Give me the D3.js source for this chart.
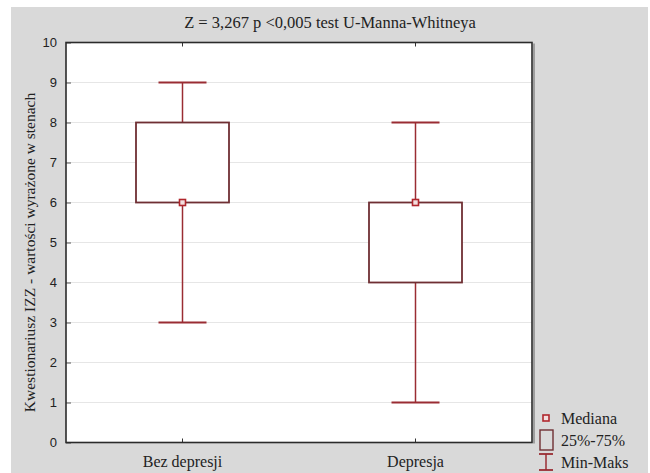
<!DOCTYPE html>
<html>
<head>
<meta charset="utf-8">
<script src="https://cdn.jsdelivr.net/npm/d3@7"></script>
<style>
  body { margin: 0; background: #fff; }
  svg { display: block; }
</style>
</head>
<body>
<div id="chart"></div>
<script>
// dane
const categories = ['Bez depresji', 'Depresja'];
const mins = [3, 1];
const q1s = [6, 4];
const medians = [6, 6];
const q3s = [8, 6];
const maxs = [9, 8];
const yTicks = [0, 1, 2, 3, 4, 5, 6, 7, 8, 9, 10];

const title = 'Z = 3,267 p <0,005 test U-Manna-Whitneya';
const yTitle = 'Kwestionariusz IZZ - wartości wyrażone w stenach';
const legendLabels = ['Mediana', '25%-75%', 'Min-Maks'];

const width = 650;
const height = 473;
const plot = { left: 66, right: 532, top: 42.5, bottom: 442.5 };

const serif = '"Liberation Serif", "Times New Roman", serif';
const sans = '"Liberation Sans", Arial, sans-serif';
const boxColor = '#6f2f33';
const whiskerColor = '#9a2c33';
const medianColor = '#b0262c';

const svg = d3.select('#chart').append('svg')
  .attr('width', width)
  .attr('height', height);

// tło
svg.append('rect')
  .attr('x', 11).attr('y', 7)
  .attr('width', width - 13).attr('height', height - 7)
  .attr('fill', '#d9d9d9');

const x = d3.scaleBand()
  .domain(categories)
  .range([plot.left, plot.right])
  .padding(0);

const y = d3.scaleLinear()
  .domain([0, 10])
  .range([plot.bottom, plot.top]);

// obszar wykresu
svg.append('rect')
  .attr('x', plot.left).attr('y', plot.top)
  .attr('width', plot.right - plot.left).attr('height', plot.bottom - plot.top)
  .attr('fill', '#fff');

// linie siatki
svg.append('g')
  .selectAll('line')
  .data(yTicks.filter(d => d > 0 && d < 10))
  .enter()
  .append('line')
  .attr('x1', plot.left).attr('x2', plot.right)
  .attr('y1', d => y(d)).attr('y2', d => y(d))
  .style('stroke', '#e6e6e6')
  .style('stroke-width', 1);

// oś Y
const yAxis = svg.append('g')
  .attr('transform', `translate(${plot.left},0)`)
  .call(d3.axisLeft(y).tickValues(yTicks).tickSize(-5).tickPadding(9));
yAxis.select('.domain').remove();
yAxis.selectAll('line').style('stroke', '#555');
yAxis.selectAll('text')
  .style('font-family', sans)
  .style('font-size', '13px')
  .style('fill', '#222');

// oś X (dolna i górna, krótkie znaczniki do wewnątrz)
const xBottom = svg.append('g')
  .attr('transform', `translate(0,${plot.bottom})`)
  .call(d3.axisBottom(x).tickSize(-4).tickPadding(13));
xBottom.select('.domain').remove();
xBottom.selectAll('line').style('stroke', '#333');
xBottom.selectAll('text')
  .style('font-family', serif)
  .style('font-size', '16px')
  .style('fill', '#222');

const xTop = svg.append('g')
  .attr('transform', `translate(0,${plot.top})`)
  .call(d3.axisTop(x).tickSize(-4));
xTop.select('.domain').remove();
xTop.selectAll('text').remove();
xTop.selectAll('line').style('stroke', '#333');

// ramka
svg.append('line')
  .attr('x1', plot.right + 2).attr('x2', plot.right + 2)
  .attr('y1', plot.top + 1).attr('y2', plot.bottom + 1)
  .style('stroke', '#8a8a8a').style('stroke-width', 1.5);
svg.append('rect')
  .attr('x', plot.left).attr('y', plot.top)
  .attr('width', plot.right - plot.left).attr('height', plot.bottom - plot.top)
  .attr('fill', 'none')
  .style('stroke', '#2b2b2b')
  .style('stroke-width', 1.6);

// wykresy pudełkowe
const data = categories.map((c, i) => ({
  cat: c, min: mins[i], q1: q1s[i], med: medians[i], q3: q3s[i], max: maxs[i]
}));
const boxW = 93;
const capW = 48;
const cx = d => x(d.cat) + x.bandwidth() / 2;

const boxes = svg.append('g').selectAll('g')
  .data(data)
  .enter()
  .append('g');

// wąsy
boxes.append('line')
  .attr('x1', cx).attr('x2', cx)
  .attr('y1', d => y(d.q3)).attr('y2', d => y(d.max))
  .style('stroke', whiskerColor).style('stroke-width', 1.5);
boxes.append('line')
  .attr('x1', cx).attr('x2', cx)
  .attr('y1', d => y(d.q1)).attr('y2', d => y(d.min))
  .style('stroke', whiskerColor).style('stroke-width', 1.5);
boxes.append('line')
  .attr('x1', d => cx(d) - capW / 2).attr('x2', d => cx(d) + capW / 2)
  .attr('y1', d => y(d.max)).attr('y2', d => y(d.max))
  .style('stroke', whiskerColor).style('stroke-width', 2);
boxes.append('line')
  .attr('x1', d => cx(d) - capW / 2).attr('x2', d => cx(d) + capW / 2)
  .attr('y1', d => y(d.min)).attr('y2', d => y(d.min))
  .style('stroke', whiskerColor).style('stroke-width', 2);

// pudełka
boxes.append('rect')
  .attr('x', d => cx(d) - boxW / 2)
  .attr('y', d => y(d.q3))
  .attr('width', boxW)
  .attr('height', d => y(d.q1) - y(d.q3))
  .attr('fill', '#fff')
  .style('stroke', boxColor)
  .style('stroke-width', 1.8);

// mediana
boxes.append('rect')
  .attr('x', d => cx(d) - 3)
  .attr('y', d => y(d.med) - 3)
  .attr('width', 6).attr('height', 6)
  .attr('fill', '#f3dede')
  .style('stroke', medianColor)
  .style('stroke-width', 1.6);

// tytuł
svg.append('text')
  .attr('x', 330).attr('y', 28)
  .attr('text-anchor', 'middle')
  .style('font-family', serif)
  .style('font-size', '16.5px')
  .style('fill', '#222')
  .text(title);

// tytuł osi Y
svg.append('text')
  .attr('transform', `translate(35,${(plot.top + plot.bottom) / 2 + 10}) rotate(-90)`)
  .attr('text-anchor', 'middle')
  .style('font-family', serif)
  .style('font-size', '15.5px')
  .style('fill', '#222')
  .text(yTitle);

// legenda
const legend = svg.append('g').attr('transform', 'translate(546,0)');
legend.append('rect')
  .attr('x', -3).attr('y', 415).attr('width', 6).attr('height', 6)
  .attr('fill', '#f3dede')
  .style('stroke', medianColor).style('stroke-width', 1.6);
legend.append('rect')
  .attr('x', -6).attr('y', 430).attr('width', 13).attr('height', 20)
  .attr('fill', 'none')
  .style('stroke', boxColor).style('stroke-width', 1.4);
legend.append('line')
  .attr('x1', 0).attr('x2', 0).attr('y1', 454).attr('y2', 470)
  .style('stroke', whiskerColor).style('stroke-width', 1.5);
legend.append('line')
  .attr('x1', -7).attr('x2', 7).attr('y1', 454).attr('y2', 454)
  .style('stroke', whiskerColor).style('stroke-width', 1.8);
legend.append('line')
  .attr('x1', -7).attr('x2', 7).attr('y1', 470).attr('y2', 470)
  .style('stroke', whiskerColor).style('stroke-width', 1.8);

legend.selectAll('text.lab')
  .data(legendLabels)
  .enter()
  .append('text')
  .attr('class', 'lab')
  .attr('x', 15)
  .attr('y', (d, i) => 424 + i * 22)
  .style('font-family', serif)
  .style('font-size', '16px')
  .style('fill', '#222')
  .text(d => d);
</script>
</body>
</html>
